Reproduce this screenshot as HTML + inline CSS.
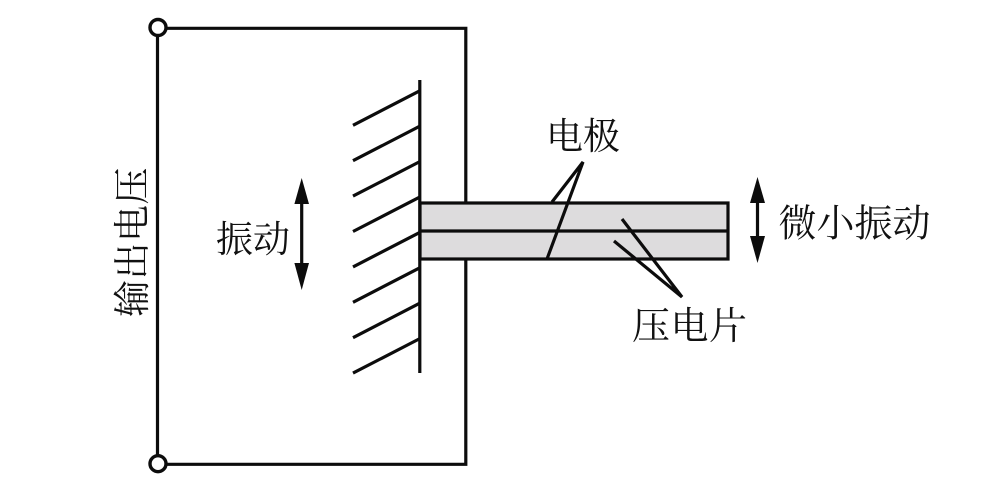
<!DOCTYPE html>
<html lang="zh">
<head>
<meta charset="utf-8">
<style>
html,body{margin:0;padding:0;background:#fff;width:1005px;height:498px;overflow:hidden}
svg{display:block}
text{font-family:"Noto Serif CJK SC","Liberation Serif",serif;font-size:37px;fill:#111}
</style>
</head>
<body>
<svg width="1005" height="498" viewBox="0 0 1005 498" xmlns="http://www.w3.org/2000/svg">
<rect width="1005" height="498" fill="#fff"/>
<g fill="none" stroke="#0c0c0c" stroke-width="3.200">
<path d="M157.500 28.300H465.800V464.300H157.500Z"/>
<path d="M419.800 80V373"/>
<path d="M353 125.300L420 90.700M353 160.700L420 126.100M353 196.100L420 161.500M353 231.500L420 196.900M353 266.900L420 232.300M353 302.300L420 267.700M353 337.700L420 303.100M353 373.100L420 338.500"/>
</g>
<rect x="420" y="203" width="308" height="56" fill="#dddcdd" stroke="#0c0c0c" stroke-width="3.200"/>
<g fill="none" stroke="#0c0c0c" stroke-width="3.200">
<path d="M420 231H728"/>
<path d="M552 202L583 162L547 259"/>
<path d="M622 219L682 297L614 241"/>
</g>
<circle cx="158" cy="27.500" r="8" fill="#fff" stroke="#0c0c0c" stroke-width="3.400"/>
<circle cx="158" cy="463.700" r="8" fill="#fff" stroke="#0c0c0c" stroke-width="3.400"/>
<g fill="none" stroke="#0c0c0c" stroke-width="3.200">
<path d="M301.700 200V266M757.500 200V239"/>
</g>
<g fill="#0c0c0c">
<path d="M301.700 178L309 204H294.400Z"/>
<path d="M301.700 290L309 263H294.400Z"/>
<path d="M757.500 177L765 203H750Z"/>
<path d="M757.500 263L765 236H750Z"/>
</g>
<text x="546" y="149">电极</text>
<text x="632" y="339" style="font-size:38px" letter-spacing="0.500">压电片</text>
<text x="778.500" y="236.500" style="font-size:38px">微小振动</text>
<text x="216" y="252">振动</text>
<text transform="translate(145 317) rotate(-90)" x="0" y="0" letter-spacing="0.500">输出电压</text>
</svg>
</body>
</html>
